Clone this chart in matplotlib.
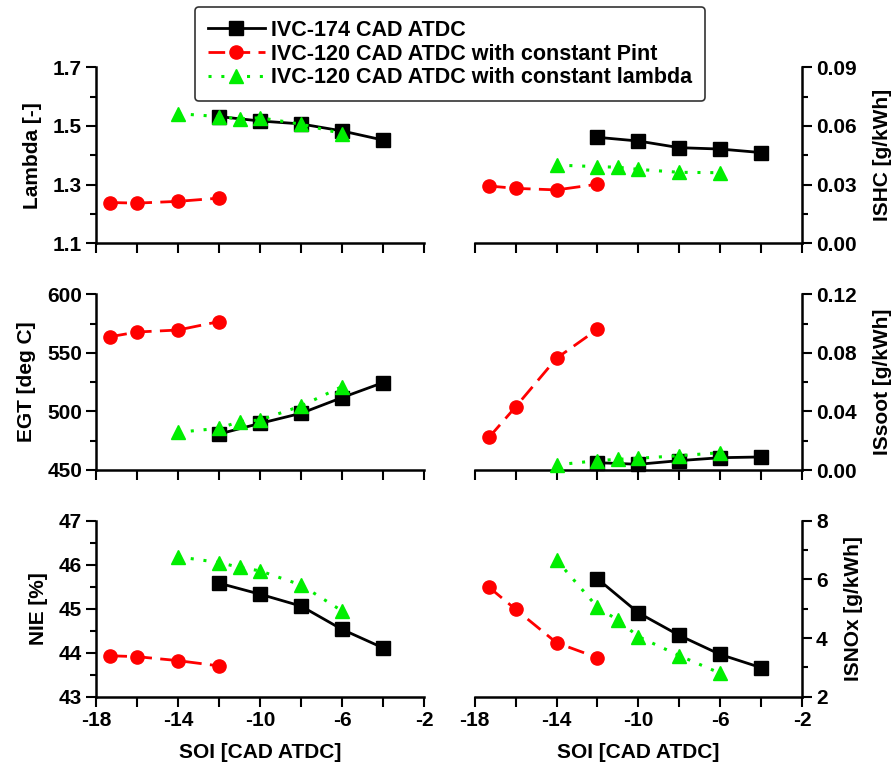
import matplotlib
matplotlib.use("Agg")
import matplotlib.pyplot as plt
from matplotlib.ticker import FixedLocator, NullFormatter, FuncFormatter
from matplotlib.font_manager import FontProperties

plt.rcParams['font.family'] = ['Liberation Sans', 'DejaVu Sans']
plt.rcParams['font.weight'] = 'bold'
plt.rcParams['axes.unicode_minus'] = False

# Start of injection (SOI) for each series
soi_174 = [-12, -10, -8, -6, -4]
soi_120_pint = [-17.3, -16, -14, -12]
soi_120_lambda = [-14, -12, -11, -10, -8, -6]

# Lambda [-]
lambda_174 = [1.532, 1.517, 1.507, 1.483, 1.452]
lambda_pint = [1.239, 1.237, 1.243, 1.254]
lambda_lam = [1.542, 1.532, 1.524, 1.528, 1.506, 1.474]

# ISHC [g/kWh]
ishc_174 = [0.0542, 0.0523, 0.0489, 0.0482, 0.0464]
ishc_pint = [0.0293, 0.0281, 0.0273, 0.0302]
ishc_lam = [0.0400, 0.0392, 0.0389, 0.0378, 0.0363, 0.0361]

# EGT [deg C]
egt_174 = [480.7, 489.8, 498.4, 511.8, 524.6]
egt_pint = [563.8, 567.8, 569.5, 576.7]
egt_lam = [482.2, 485.6, 491.3, 492.7, 504.6, 521.2]

# ISsoot [g/kWh]
issoot_174 = [0.0050, 0.0039, 0.0064, 0.0084, 0.0089]
issoot_pint = [0.0223, 0.0431, 0.0763, 0.0961]
issoot_lam = [0.0035, 0.0064, 0.0073, 0.0080, 0.0098, 0.0118]

# NIE [%]
nie_174 = [45.58, 45.33, 45.06, 44.53, 44.11]
nie_pint = [43.93, 43.91, 43.82, 43.70]
nie_lam = [46.18, 46.05, 45.94, 45.86, 45.54, 44.95]

# ISNOx [g/kWh]
isnox_174 = [6.02, 4.86, 4.09, 3.44, 2.99]
isnox_pint = [5.73, 4.98, 3.84, 3.33]
isnox_lam = [6.66, 5.05, 4.61, 4.05, 3.40, 2.80]

series_labels = ["IVC-174 CAD ATDC",
                 "IVC-120 CAD ATDC with constant Pint",
                 "IVC-120 CAD ATDC with constant lambda"]

# Axis ticks
soi_major = [-18, -14, -10, -6, -2]
soi_minor = [-16, -12, -8, -4]

styles = [
    dict(color='black', lw=2.0, ls='-', marker='s', ms=10, mfc='black', mec='black'),
    dict(color='#ff0000', lw=2.0, dashes=(6, 3), marker='o', ms=9.5, mfc='#ff0000', mec='#ff0000'),
    dict(color='#00ee00', lw=2.2, dashes=(1, 3.2), marker='^', ms=10.5, mfc='#00ee00', mec='#00ee00'),
]

W, H = 894, 764
fig = plt.figure(figsize=(W / 100, H / 100), dpi=100)

def frac_box(x0, x1, ytop, ybot):
    return [x0 / W, 1 - ybot / H, (x1 - x0) / W, (ybot - ytop) / H]

rows = [(67.3, 243.3), (294.3, 470.0), (520.7, 696.7)]
left_x = (96.0, 424.0)
right_x = (474.7, 802.0)

panels = [
    # (row, side, ylabel, ylim, step, fmt, data)
    (0, 'L', 'Lambda [-]', (1.1, 1.7), 0.2, '{:.1f}', (lambda_174, lambda_pint, lambda_lam)),
    (0, 'R', 'ISHC [g/kWh]', (0.0, 0.09), 0.03, '{:.2f}', (ishc_174, ishc_pint, ishc_lam)),
    (1, 'L', 'EGT [deg C]', (450, 600), 50, '{:.0f}', (egt_174, egt_pint, egt_lam)),
    (1, 'R', 'ISsoot [g/kWh]', (0.0, 0.12), 0.04, '{:.2f}', (issoot_174, issoot_pint, issoot_lam)),
    (2, 'L', 'NIE [%]', (43, 47), 1, '{:.0f}', (nie_174, nie_pint, nie_lam)),
    (2, 'R', 'ISNOx [g/kWh]', (2, 8), 2, '{:.0f}', (isnox_174, isnox_pint, isnox_lam)),
]

xs = (soi_174, soi_120_pint, soi_120_lambda)
handles = None

for row, side, ylabel, ylim, step, fmt, data in panels:
    ytop, ybot = rows[row]
    xr = left_x if side == 'L' else right_x
    ax = fig.add_axes(frac_box(xr[0], xr[1], ytop, ybot))
    lines = []
    for x, y, st in zip(xs, data, styles):
        ln, = ax.plot(x, y, clip_on=False, zorder=3, **st)
        lines.append(ln)
    if handles is None:
        handles = lines

    ax.set_xlim(-18, -2)
    ax.set_ylim(*ylim)
    n = int(round((ylim[1] - ylim[0]) / step))
    ymaj = [ylim[0] + i * step for i in range(n + 1)]
    ymin = [ylim[0] + (i + 0.5) * step for i in range(n)]
    ax.xaxis.set_major_locator(FixedLocator(soi_major))
    ax.xaxis.set_minor_locator(FixedLocator(soi_minor))
    ax.yaxis.set_major_locator(FixedLocator(ymaj))
    ax.yaxis.set_minor_locator(FixedLocator(ymin))
    ax.yaxis.set_major_formatter(FuncFormatter(lambda v, p, f=fmt: f.format(v)))
    ax.xaxis.set_major_formatter(FuncFormatter(lambda v, p: '{:.0f}'.format(v)))

    ax.spines['top'].set_visible(False)
    if side == 'L':
        ax.spines['right'].set_visible(False)
    else:
        ax.spines['left'].set_visible(False)
        ax.yaxis.tick_right()
        ax.yaxis.set_label_position('right')
    for sp in ax.spines.values():
        sp.set_linewidth(1.8)

    ax.tick_params(axis='both', which='major', direction='out', length=7, width=1.5,
                   labelsize=15, pad=3)
    ax.tick_params(axis='y', which='minor', direction='out', length=4, width=1.5)
    ax.tick_params(axis='x', which='minor', direction='out', length=7, width=1.5)
    for lbl in ax.get_xticklabels() + ax.get_yticklabels():
        lbl.set_fontweight('bold')

    ax.set_ylabel(ylabel, fontsize=15, fontweight='bold',
                  labelpad=8 if side == 'L' else 12)
    if row < 2:
        ax.xaxis.set_major_formatter(NullFormatter())
    else:
        ax.set_xlabel('SOI [CAD ATDC]', fontsize=15, fontweight='bold', labelpad=10)
    ax.patch.set_alpha(0)

leg = fig.legend(handles, series_labels, loc='upper left',
                 bbox_to_anchor=(195 / W, 1 - 7 / H), bbox_transform=fig.transFigure,
                 frameon=True, fancybox=True, handlelength=2.65,
                 borderpad=0.6, labelspacing=0.12, handletextpad=0.3,
                 borderaxespad=0.0,
                 prop=FontProperties(family='Liberation Sans', weight='bold', size=15.5))
leg.get_frame().set_edgecolor('black')
leg.get_frame().set_linewidth(1.2)

fig.savefig('out.png', dpi=100)
